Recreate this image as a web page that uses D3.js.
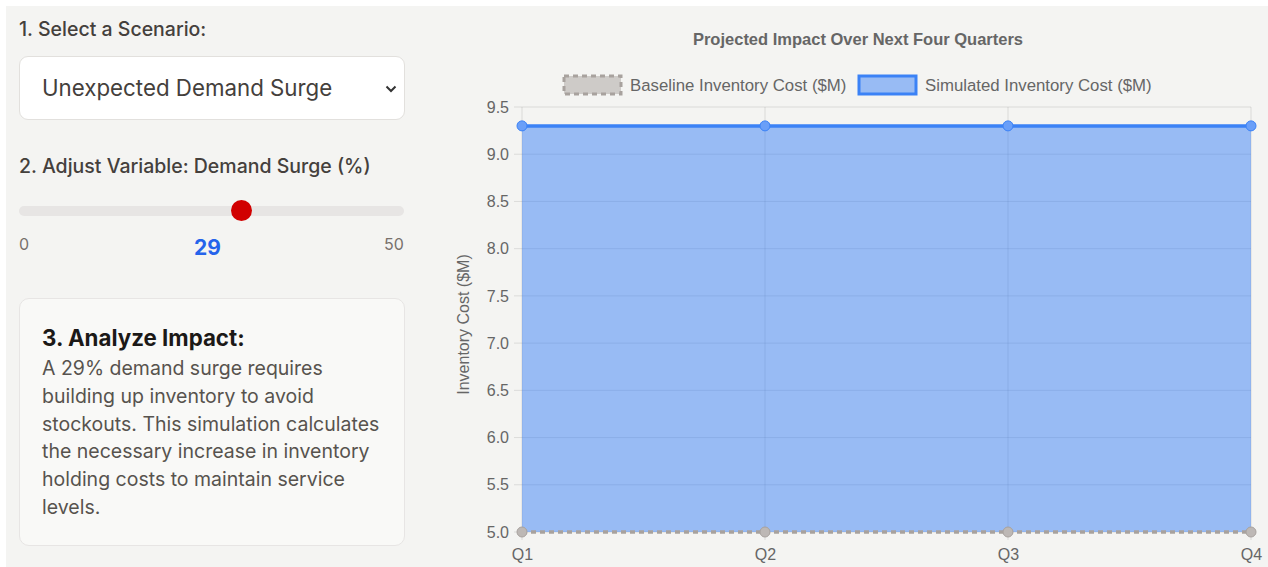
<!DOCTYPE html>
<html>
<head>
<meta charset="utf-8">
<script src="https://cdn.jsdelivr.net/npm/d3@7/dist/d3.min.js"></script>
<style>
  html, body { margin: 0; padding: 0; background: #ffffff; }
  body { width: 1268px; height: 567px; overflow: hidden; position: relative; }
  #panel { position: absolute; left: 6px; top: 6px; width: 1262px; height: 561px; background: #f4f4f2; }
  .ui { position: absolute; font-family: Inter, "Noto Sans", sans-serif; color: #44403c; }
  .step { font-size: 19.5px; font-weight: 500; }
  #select { left: 13px; top: 50px; width: 386px; height: 64px; background: #ffffff; border: 1px solid #e2e0dd;
            border-radius: 9px; box-sizing: border-box; }
  #select .txt { position: absolute; left: 22px; top: 17px; font-size: 22.3px; color: #44403c; }
  #select svg { position: absolute; }
  #track { left: 13px; top: 200px; width: 385px; height: 10px; border-radius: 5px; background: #e7e5e4; }
  #thumb { width: 21px; height: 21px; border-radius: 50%; background: #d10000; top: 194px; }
  .lim { font-size: 16px; color: #78716c; top: 228px; }
  #val { font-size: 21px; font-weight: 700; color: #2563eb; top: 229px; }
  #card { left: 13px; top: 292px; width: 386px; height: 248px; background: #f9f9f7; border: 1px solid #e7e5e4;
          border-radius: 10px; box-sizing: border-box; }
  #card h3 { margin: 0; position: absolute; left: 22px; top: 25px; font-size: 22.3px; font-weight: 700; color: #1c1917; }
  #card p { margin: 0; position: absolute; left: 22px; top: 56px; width: 350px; font-size: 19.5px; line-height: 27.8px; color: #57534e; }
  #chart { position: absolute; left: 0; top: 0; }
</style>
</head>
<body>
<div id="panel">
  <div class="ui step" style="left:13px; top:11px;">1. Select a Scenario:</div>
  <div class="ui" id="select"><span class="txt">Unexpected Demand Surge</span>
    <svg width="12" height="8" style="left:365px; top:28px;"><path d="M1.5 1.5 L6 6 L10.5 1.5" fill="none" stroke="#333" stroke-width="2"/></svg>
  </div>
  <div class="ui step" style="left:13px; top:148px;">2. Adjust Variable: Demand Surge (%)</div>
  <div class="ui" id="track"></div>
  <div class="ui" id="thumb"></div>
  <div class="ui lim" id="limMin" style="left:13px;"></div>
  <div class="ui lim" id="limMax"></div>
  <div class="ui" id="val"></div>
  <div class="ui" id="card">
    <h3>3. Analyze Impact:</h3>
    <p id="desc"></p>
  </div>
</div>
<svg id="chart" width="1268" height="567"></svg>
<script>
// Scenario inputs
const scenarioName = "Unexpected Demand Surge";
const surgeRange = [0, 50];
const surgePct = 29;

// Quarterly inventory cost, $M
const quarters = ["Q1", "Q2", "Q3", "Q4"];
const baselineCost = [5.0, 5.0, 5.0, 5.0];
const simulatedCost = [9.3, 9.3, 9.3, 9.3];
const yTickValues = [5.0, 5.5, 6.0, 6.5, 7.0, 7.5, 8.0, 8.5, 9.0, 9.5];
const seriesNames = ["Baseline Inventory Cost ($M)", "Simulated Inventory Cost ($M)"];

// ---- control panel ----
const trackLeft = 13, trackWidth = 385;
const sliderX = d3.scaleLinear().domain(surgeRange).range([trackLeft, trackLeft + trackWidth]);
d3.select("#thumb").style("left", (sliderX(surgePct) - 11.5) + "px");
d3.select("#limMin").text(surgeRange[0]);
d3.select("#limMax").text(surgeRange[1]).style("left", (trackLeft + trackWidth - 20) + "px");
d3.select("#val").text(surgePct).style("left", "188px");
d3.select("#desc").text(`A ${surgePct}% demand surge requires building up inventory to avoid stockouts. This simulation calculates the necessary increase in inventory holding costs to maintain service levels.`);

// ---- chart ----
const svg = d3.select("#chart");
const font = "'Liberation Sans', Arial, sans-serif";
const plotLeft = 522, plotRight = 1251, plotTop = 107, plotBottom = 532;

const x = d3.scalePoint().domain(quarters).range([plotLeft, plotRight]).padding(0);
const y = d3.scaleLinear().domain([5.0, 9.5]).range([plotBottom, plotTop]);

const baseColor = "#a8a29e", simColor = "#3b82f6";
const baseFill = "rgba(168,162,158,0.5)", simFill = "rgba(59,130,246,0.5)";

// title
svg.append("text").attr("x", 858).attr("y", 44.5).attr("text-anchor", "middle")
  .attr("font-family", font).attr("font-size", 16.5).attr("font-weight", 700).attr("fill", "#666")
  .text("Projected Impact Over Next Four Quarters");

// legend
const legend = [
  { name: seriesNames[0], x: 564, stroke: baseColor, fill: baseFill, dash: "5,4" },
  { name: seriesNames[1], x: 859, stroke: simColor, fill: simFill, dash: null }
];
legend.forEach(l => {
  svg.append("rect").attr("x", l.x).attr("y", 76).attr("width", 57).attr("height", 18)
    .attr("fill", l.fill).attr("stroke", l.stroke).attr("stroke-width", 3)
    .attr("stroke-dasharray", l.dash);
  svg.append("text").attr("x", l.x + 66).attr("y", 91)
    .attr("font-family", font).attr("font-size", 16.8).attr("fill", "#666").text(l.name);
});

// grid
const grid = svg.append("g").attr("stroke", "rgba(0,0,0,0.1)").attr("stroke-width", 1);
yTickValues.forEach(v => {
  grid.append("line").attr("x1", plotLeft - 8).attr("x2", plotRight).attr("y1", y(v)).attr("y2", y(v));
});
quarters.forEach(q => {
  grid.append("line").attr("x1", x(q)).attr("x2", x(q)).attr("y1", plotTop).attr("y2", plotBottom + 8);
});

// y axis
const yAxis = svg.append("g").attr("transform", `translate(${plotLeft - 8},0)`)
  .call(d3.axisLeft(y).tickValues(yTickValues).tickFormat(d3.format(".1f")).tickSize(0).tickPadding(5));
yAxis.select(".domain").remove();
yAxis.selectAll("text").attr("font-family", font).attr("font-size", 16).attr("fill", "#666");

// x axis
const xAxis = svg.append("g").attr("transform", `translate(0,${plotBottom + 8})`)
  .call(d3.axisBottom(x).tickSize(0).tickPadding(9));
xAxis.select(".domain").remove();
xAxis.selectAll("text").attr("font-family", font).attr("font-size", 16).attr("fill", "#666");

// y axis title
svg.append("text").attr("transform", `translate(469,${(plotTop + plotBottom) / 2 + 5}) rotate(-90)`)
  .attr("text-anchor", "middle").attr("font-family", font).attr("font-size", 16).attr("fill", "#666")
  .text("Inventory Cost ($M)");

// series
const area = d3.area().x((d, i) => x(quarters[i])).y0(y(5.0)).y1(d => y(d));
const line = d3.line().x((d, i) => x(quarters[i])).y(d => y(d));

// simulated (drawn underneath)
svg.append("path").datum(simulatedCost).attr("d", area).attr("fill", simFill);
svg.append("path").datum(simulatedCost).attr("d", line).attr("fill", "none")
  .attr("stroke", simColor).attr("stroke-width", 3.5);
svg.selectAll(".simPt").data(simulatedCost).join("circle").attr("class", "simPt")
  .attr("cx", (d, i) => x(quarters[i])).attr("cy", d => y(d)).attr("r", 5)
  .attr("fill", "#6a9ff8").attr("stroke", simColor).attr("stroke-width", 1);

// baseline (on top)
svg.append("path").datum(baselineCost).attr("d", area).attr("fill", "rgba(168,162,158,0.2)");
svg.append("path").datum(baselineCost).attr("d", line).attr("fill", "none")
  .attr("stroke", baseColor).attr("stroke-width", 3.5).attr("stroke-dasharray", "5,4");
svg.selectAll(".basePt").data(baselineCost).join("circle").attr("class", "basePt")
  .attr("cx", (d, i) => x(quarters[i])).attr("cy", d => y(d)).attr("r", 5)
  .attr("fill", "#bdb8b5").attr("stroke", baseColor).attr("stroke-width", 1);
</script>
</body>
</html>
